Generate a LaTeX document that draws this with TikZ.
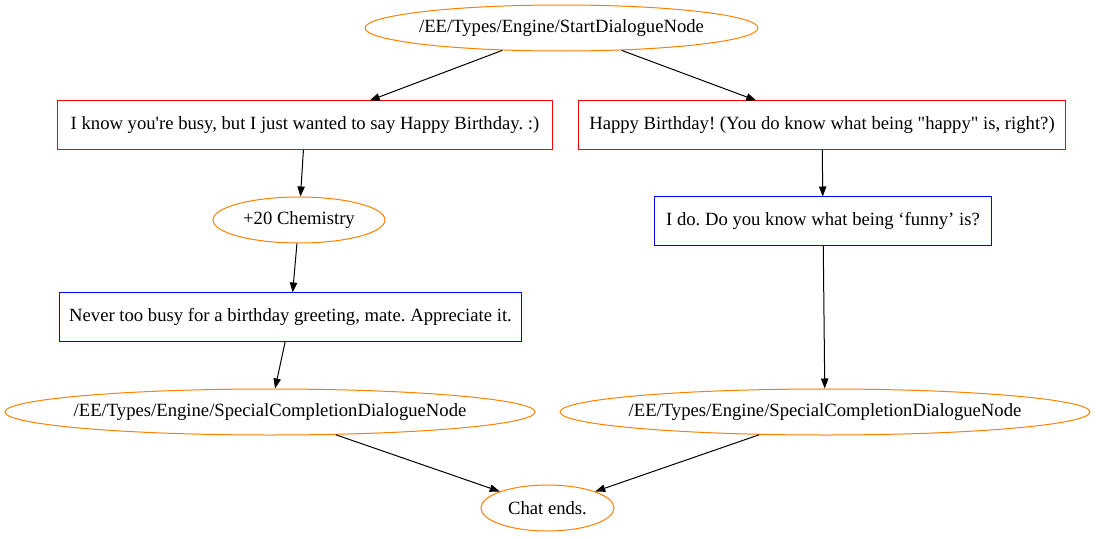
\documentclass[tikz,border=0pt]{standalone}
\usepackage{fontspec}
\setmainfont{Liberation Serif}
\usetikzlibrary{shapes.geometric,arrows.meta}
\frenchspacing

\begin{document}
\begin{tikzpicture}[
    x=0.75pt, y=-0.75pt,
    every node/.style={font=\fontsize{14}{16}\selectfont, line width=0.75pt, inner sep=0pt},
    event/.style={ellipse, draw=orange, inner xsep=-40pt, minimum height=34.5pt},
    textbox/.style={rectangle, minimum height=36pt},
    border/.style={line width=0.75pt},
    edge/.style={line width=0.75pt, -{Triangle[length=7.5pt, width=5.5pt]}}
]
    \useasboundingbox (0,0) rectangle (1096,539);

    % dialogue lines
    \node[textbox, minimum width=370.5pt] (l1) at (305,125) {I know you\textquotesingle re busy, but I just wanted to say Happy Birthday. :)};
    \node[textbox, minimum width=364.5pt] (l2) at (822,125) {Happy Birthday! (You do know what being \textquotedbl happy\textquotedbl\ is, right?)};
    \node[textbox, minimum width=345.75pt] (r1) at (290.5,317) {Never too busy for a birthday greeting, mate. Appreciate it.};
    \node[textbox, minimum width=252pt] (r2) at (823,221) {I do. Do you know what being \textquoteleft funny\textquoteright\ is?};

    % engine events
    \node[event, minimum width=294.75pt] (start) at (561.5,28) {/EE/Types/Engine/StartDialogueNode};
    \node[event, minimum width=129pt] (chem) at (299,220) {+20 Chemistry};
    \node[event, minimum width=397.5pt] (end1) at (270,412) {/EE/Types/Engine/SpecialCompletionDialogueNode};
    \node[event, minimum width=397.5pt] (end2) at (825,412) {/EE/Types/Engine/SpecialCompletionDialogueNode};
    \node[event, minimum width=99.75pt] (chat) at (547.5,508) {Chat ends.};

    % box outlines
    \foreach \n/\c in {l1/red, l2/red, r1/blue, r2/blue}
        \draw[border, draw=\c] (\n.north west) rectangle (\n.south east);

    \draw[edge] (start) -- (l1);
    \draw[edge] (start) -- (l2);
    \draw[edge] (l1) -- (chem);
    \draw[edge] (chem) -- (r1);
    \draw[edge] (r1) -- (end1);
    \draw[edge] (l2) -- (r2);
    \draw[edge] (r2) -- (end2);
    \draw[edge] (end1) -- (chat);
    \draw[edge] (end2) -- (chat);
\end{tikzpicture}
\end{document}
